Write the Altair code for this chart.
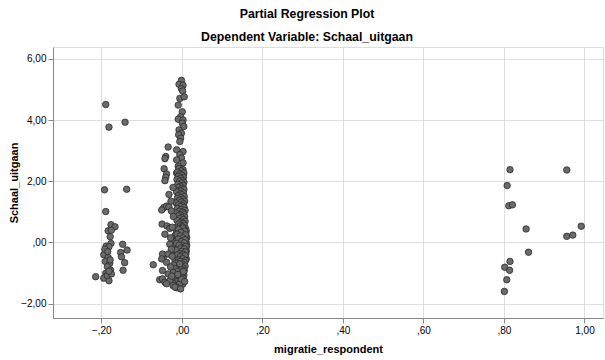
import altair as alt
import pandas as pd

# --- data ---
# left cluster (migratie_respondent around -0.2)
left_x = [-0.189, -0.181, -0.141, -0.192, -0.137, -0.189, -0.176, -0.166, -0.183, -0.175,
          -0.178, -0.176, -0.188, -0.181, -0.147, -0.136, -0.152, -0.150, -0.194, -0.183,
          -0.142, -0.190, -0.179, -0.185, -0.177, -0.146, -0.189, -0.214, -0.194, -0.181,
          -0.185, -0.175, -0.181, -0.191, -0.184, -0.178]
left_y = [4.51, 3.77, 3.93, 1.72, 1.74, 1.01, 0.58, 0.51, 0.38, 0.40,
          0.19, -0.03, -0.12, -0.14, -0.06, -0.25, -0.33, -0.47, -0.40, -0.49,
          -0.66, -0.62, -0.68, -0.79, -0.90, -0.91, -1.01, -1.12, -1.17, -1.25,
          -1.08, -1.03, -0.94, -0.22, -0.30, -0.57]

# right cluster (around 0.8 - 1.0)
right_x = [0.815, 0.956, 0.808, 0.812, 0.821, 0.855, 0.992, 0.956, 0.971, 0.861,
           0.815, 0.802, 0.814, 0.807, 0.801]
right_y = [2.38, 2.37, 1.86, 1.20, 1.23, 0.44, 0.53, 0.20, 0.24, -0.32,
           -0.62, -0.81, -0.91, -1.22, -1.60]

# central cluster (around 0)
mid_x = [
    -0.001, -0.007, 0.003, -0.001, 0.002, -0.005, 0.006, -0.009, 0.001, -0.003,
    -0.009, 0.003, 0.001, 0.005, -0.007, -0.001, -0.008, -0.003, -0.005, -0.034,
    -0.013, 0.003, -0.005, -0.001, -0.013, 0.003, -0.009, -0.001, -0.013, 0.003,
    -0.007, 0.003, -0.002, -0.011, 0.005, -0.005, 0.000, -0.009, 0.004, -0.003,
    -0.012, 0.002, -0.006, 0.005, -0.001, -0.010, 0.003, -0.004, -0.008, 0.001,
    0.005, -0.006, -0.002, -0.013, 0.004, -0.004, 0.000, -0.009, 0.006,
    -0.003, -0.011, 0.003, -0.006, 0.007, -0.001, -0.014, 0.004, -0.008, 0.001,
    -0.004, 0.006, -0.011, -0.002, 0.008, -0.006, 0.002, -0.015, 0.005, -0.003,
    -0.009, 0.007, 0.000, -0.006, 0.004, -0.012, 0.008, -0.002, 0.003, -0.008,
    0.006, -0.004, 0.001,
    -0.016, 0.009, -0.005, 0.004, -0.010, 0.011, 0.000, -0.013, 0.006, -0.003,
    0.010, -0.008, 0.003, -0.017, 0.008, -0.001, 0.012, -0.006, 0.005, -0.011,
    0.010, 0.001, -0.015, 0.007, -0.004, 0.011, -0.009, 0.004, -0.001, 0.012,
    -0.018, 0.008, -0.006, 0.002, 0.010, -0.012, 0.005, -0.003, 0.011, -0.016,
    0.007, -0.008, 0.001, 0.010, -0.005, 0.004, -0.014, 0.009, -0.002, 0.006,
    -0.010, 0.011, 0.000, -0.017, 0.005,
    0.002, -0.008, 0.007, -0.002, 0.009, -0.012, -0.004, 0.003, -0.009, 0.008,
    -0.001, 0.006, -0.013, 0.002, -0.007, 0.010, -0.003, 0.006, -0.014, 0.001,
    0.009, -0.006, 0.004, -0.011, 0.008, -0.004, 0.002, -0.008, 0.009,
    -0.004, 0.006, -0.013, 0.001, -0.020, 0.008, -0.007, 0.003, -0.016, -0.002,
    0.006, -0.011, -0.022, 0.002, -0.006, 0.005, -0.015, -0.003, 0.003, -0.019,
    -0.008, 0.001, -0.012, -0.004, -0.021, 0.002, -0.009, -0.016, -0.006, -0.001,
    -0.010, 0.004, -0.005, 0.007, -0.013,
    -0.040, -0.042, -0.044, -0.038, -0.040, -0.042, -0.032, -0.045, -0.038, -0.032,
    -0.050, -0.026, -0.049, -0.037, -0.030, -0.024, -0.042, -0.030, -0.026, -0.046,
    -0.048, -0.034, -0.050, -0.038, -0.071, -0.048, -0.034, -0.030, -0.055, -0.048,
    -0.042, -0.038, -0.022, -0.013, -0.017, -0.003,
    -0.028, -0.024, -0.028, -0.025, -0.021, -0.027, -0.022,
]
mid_y = [
    5.30, 5.17, 5.14, 5.03, 4.95, 4.71, 4.76, 4.49, 4.27, 4.11,
    4.03, 4.00, 3.90, 3.79, 3.68, 3.57, 3.52, 3.41, 3.30, 3.12,
    3.03, 2.97, 2.87, 2.76, 2.70, 2.60, 2.49, 2.38, 2.27, 2.19,
    2.42, 2.38, 2.34, 2.30, 2.27, 2.24, 2.20, 2.16, 2.13, 2.10,
    2.06, 2.03, 2.00, 1.97, 1.94, 1.90, 1.87, 1.84, 1.80, 1.77,
    1.74, 1.71, 1.68, 1.65, 1.62, 1.59, 1.56, 1.53, 1.50,
    1.47, 1.44, 1.41, 1.38, 1.35, 1.32, 1.29, 1.26, 1.23, 1.20,
    1.17, 1.14, 1.11, 1.08, 1.05, 1.02, 0.99, 0.96, 0.93, 0.90,
    0.87, 0.84, 0.81, 0.78, 0.75, 0.72, 0.69, 0.66, 0.63, 0.60,
    0.57, 0.54, 0.51,
    0.48, 0.46, 0.44, 0.42, 0.40, 0.38, 0.36, 0.34, 0.32, 0.30,
    0.28, 0.26, 0.24, 0.22, 0.20, 0.18, 0.16, 0.14, 0.12, 0.10,
    0.08, 0.06, 0.04, 0.02, 0.00, -0.02, -0.04, -0.06, -0.08, -0.10,
    -0.12, -0.14, -0.16, -0.18, -0.20, -0.22, -0.24, -0.26, -0.28, -0.30,
    -0.32, -0.34, -0.36, -0.38, -0.40, -0.42, -0.44, -0.46, -0.48, -0.50,
    -0.52, -0.54, -0.56, -0.58, -0.60,
    0.47, 0.43, 0.37, 0.33, 0.25, 0.27, 0.21, 0.15, 0.11, 0.09,
    0.03, -0.01, -0.03, -0.11, -0.09, -0.13, -0.19, -0.21, -0.25, -0.29,
    -0.31, -0.37, -0.39, -0.41, -0.43, -0.47, -0.53, -0.57, -0.59,
    -0.62, -0.65, -0.68, -0.71, -0.74, -0.77, -0.80, -0.83, -0.86, -0.89,
    -0.92, -0.95, -0.98, -1.01, -1.04, -1.07, -1.10, -1.13, -1.16, -1.19,
    -1.22, -1.25, -1.28, -1.31, -1.34, -1.37, -1.40, -1.43, -1.36, -1.20,
    -1.05, -0.95, -0.70, -1.28, -1.48,
    2.81, 2.74, 2.41, 2.24, 2.13, 2.02, 1.57, 1.14, 1.19, 1.16,
    1.06, 1.03, 0.60, 0.54, 0.46, 0.50, 0.27, -0.06, -0.22, -0.49,
    -0.38, -0.38, -0.54, -0.65, -0.73, -0.92, -1.03, -1.25, -1.22, -1.19,
    -1.30, -1.35, -1.41, -1.46, -1.46, -1.52,
    0.15, -0.45, -0.80, -1.10, 0.85, 1.35, 1.80,
]

x_ticks = [-0.2, 0.0, 0.2, 0.4, 0.6, 0.8, 1.0]
y_ticks = [-2, 0, 2, 4, 6]

df = pd.DataFrame({
    "migratie_respondent": left_x + mid_x + right_x,
    "Schaal_uitgaan": left_y + mid_y + right_y,
})

label_expr = "replace(replace(format(datum.value, '.2f'), '0.', ','), '.', ',')"

chart = alt.Chart(df).mark_point(
    filled=True, size=42, shape="circle",
    fill="#6a6a6a", stroke="#2a2a2a", strokeWidth=0.8, opacity=1
).encode(
    x=alt.X("migratie_respondent:Q",
            scale=alt.Scale(domain=[-0.32, 1.046], nice=False, zero=False),
            axis=alt.Axis(values=x_ticks, labelExpr=label_expr,
                          title="migratie_respondent", titlePadding=8)),
    y=alt.Y("Schaal_uitgaan:Q",
            scale=alt.Scale(domain=[-2.47, 6.39], nice=False, zero=False),
            axis=alt.Axis(values=y_ticks, labelExpr=label_expr,
                          title="Schaal_uitgaan", titlePadding=1)),
).properties(
    width=550, height=271,
    title=alt.TitleParams(
        "Partial Regression Plot",
        subtitle="Dependent Variable: Schaal_uitgaan",
        anchor="middle", dx=-21, offset=4,
        font="Liberation Sans", fontSize=12.3, fontWeight="bold", color="#000000",
        subtitleFont="Liberation Sans", subtitleFontSize=12.3,
        subtitleFontWeight="bold", subtitleColor="#000000", subtitlePadding=10,
    ),
    autosize=alt.AutoSizeParams(type="none"),
    padding={"left": 53, "top": 47, "right": 2, "bottom": 42},
).configure_view(
    stroke=None
).configure_axis(
    grid=True, gridColor="#d4d4d4", gridWidth=1,
    domainColor="#8a8a8a", domainWidth=1.5,
    ticks=False,
    labelFont="Liberation Sans", labelFontSize=8, labelColor="#222222",
    labelPadding=6,
    titleFont="Liberation Sans", titleFontSize=12.5, titleFontWeight="bold",
    titleColor="#111111",
).configure(background="white")

chart.save("out.html", embed_options={"renderer": "svg", "actions": False})
